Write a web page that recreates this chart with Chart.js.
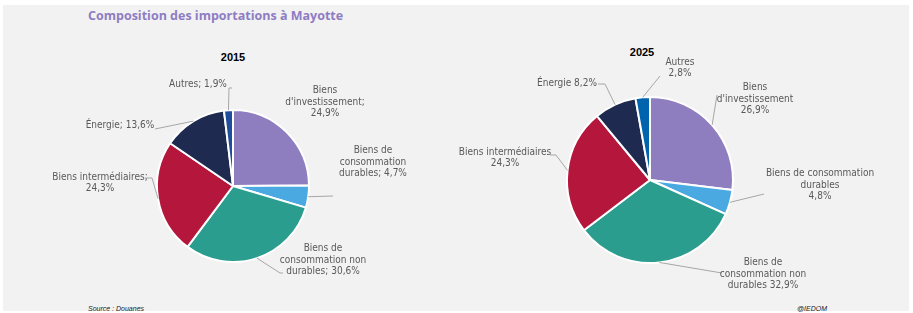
<!DOCTYPE html>
<html><head><meta charset="utf-8">
<script src="https://cdn.jsdelivr.net/npm/chart.js@4/dist/chart.umd.min.js"></script>
<style>
html,body{margin:0;padding:0;background:#fff;width:913px;height:313px;overflow:hidden;}
#panel{position:absolute;left:3px;top:5px;width:906px;height:306px;background:#f2f2f2;}
.t{position:absolute;white-space:nowrap;}
#title{left:88px;top:7px;font:bold 12.5px "Open Sans","Liberation Sans",sans-serif;color:#8e7cc3;}
.yr{font:bold 11px "Liberation Sans",sans-serif;color:#000;transform:translateX(-50%);}
#src,#cred{font:italic 7px "Liberation Sans Narrow","Liberation Sans",sans-serif;color:#222;top:305px;}
canvas{position:absolute;top:0;}
</style></head>
<body>
<div id="panel"></div>
<div class="t" id="title">Composition des importations à Mayotte</div>
<div class="t yr" style="left:233px;top:51px">2015</div>
<div class="t yr" style="left:642px;top:46px">2025</div>
<div class="t" id="src" style="left:88px">Source : Douanes</div>
<div class="t" id="cred" style="left:797px">@IEDOM</div>
<canvas id="c1" width="456" height="313" style="left:0;width:456px;height:313px"></canvas>
<canvas id="c2" width="457" height="313" style="left:456px;width:457px;height:313px"></canvas>
<script>
// ---- data ----
const categories = ["Biens d'investissement","Biens de consommation durables","Biens de consommation non durables","Biens intermédiaires","Énergie","Autres"];
const values2015 = [24.9, 4.7, 30.6, 24.3, 13.6, 1.9];
const values2025 = [26.9, 4.8, 32.9, 24.3, 8.2, 2.8];
const labels2015 = [
  ["Biens","d'investissement;","24,9%"],
  ["Biens de","consommation","durables; 4,7%"],
  ["Biens de","consommation non","durables; 30,6%"],
  ["Biens intermédiaires;","24,3%"],
  ["Énergie; 13,6%"],
  ["Autres; 1,9%"]
];
const labels2025 = [
  ["Biens","d'investissement","26,9%"],
  ["Biens de consommation","durables","4,8%"],
  ["Biens de","consommation non","durables 32,9%"],
  ["Biens intermédiaires","24,3%"],
  ["Énergie 8,2%"],
  ["Autres","2,8%"]
];
const colors2015 = ["#8e7dbf","#4aa9e1","#2a9d8e","#b4163c","#1e2a4f","#1f4f9c"];
const colors2025 = ["#8e7dbf","#4aa9e1","#2a9d8e","#b4163c","#1e2a4f","#0063ae"];

// ---- label placement (relative to pie centre): text centre, leader polyline points ----
const place2015 = [
  {tx:92, ty:-84, line:null},
  {tx:140, ty:-24, line:[[100,10]]},
  {tx:90, ty:74, line:[[47,87],[50,87]]},
  {tx:-133, ty:-3, line:[[-81,-8],[-88,-8]]},
  {tx:-113, ty:-61, line:[[-78,-57]]},
  {tx:-35, ty:-102, line:[[-4,-98],[-1,-98]]}
];
const place2025 = [
  {tx:105, ty:-81, line:[[67,-85]]},
  {tx:170, ty:5, line:[[114,14]]},
  {tx:113, ty:94, line:[[72,93]]},
  {tx:-145, ty:-22, line:[[-94,-25],[-100,-25]]},
  {tx:-83, ty:-97, line:[[-45,-96],[-52,-96]]},
  {tx:30, ty:-112, line:[[10,-104]]}
];

const labelPlugin = {
  id:'sliceLabels',
  afterDatasetsDraw(chart, args, opts){
    const ctx = chart.ctx;
    const meta = chart.getDatasetMeta(0);
    ctx.save();
    ctx.font = '10px "Liberation Sans Narrow","DejaVu Sans Condensed",sans-serif';
    ctx.fillStyle = '#595959';
    ctx.textAlign = 'center';
    ctx.textBaseline = 'middle';
    meta.data.forEach((arc, i) => {
      const p = arc.getProps(['x','y','startAngle','endAngle','outerRadius'], true);
      const mid = (p.startAngle + p.endAngle)/2;
      const pl = opts.place[i];
      if (pl.line){
        ctx.beginPath();
        ctx.strokeStyle = '#a6a6a6';
        ctx.lineWidth = 1;
        ctx.moveTo(p.x + Math.cos(mid)*p.outerRadius, p.y + Math.sin(mid)*p.outerRadius);
        pl.line.forEach(pt => ctx.lineTo(p.x + pt[0], p.y + pt[1]));
        ctx.stroke();
      }
      const lines = opts.labels[i];
      const lh = 11.5;
      const y0 = p.y + pl.ty - (lines.length-1)*lh/2;
      lines.forEach((s, k) => ctx.fillText(s, p.x + pl.tx, y0 + k*lh));
    });
    ctx.restore();
  }
};

function makePie(id, values, colors, labels, place, radius, padding){
  return new Chart(document.getElementById(id), {
    type:'pie',
    data:{labels:categories, datasets:[{data:values, backgroundColor:colors, borderColor:'#ffffff', borderWidth:2, radius:radius}]},
    options:{
      responsive:false, animation:false,
      layout:{padding:padding},
      plugins:{legend:{display:false}, tooltip:{enabled:false}, title:{display:false},
        sliceLabels:{labels:labels, place:place}}
    },
    plugins:[labelPlugin]
  });
}
makePie('c1', values2015, colors2015, labels2015, place2015, 76, {left:10,right:0,top:59,bottom:0});
makePie('c2', values2025, colors2025, labels2025, place2025, 83, {left:0,right:69,top:47,bottom:0});
</script>
</body></html>
